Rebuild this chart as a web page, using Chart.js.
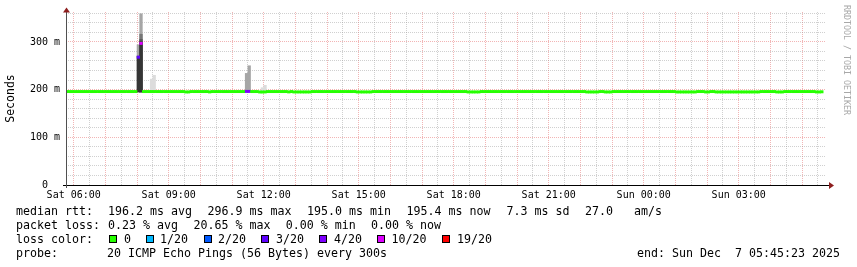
<!DOCTYPE html>
<html><head><meta charset="utf-8">
<script src="https://cdn.jsdelivr.net/npm/chart.js@4"></script>
<style>
html,body{margin:0;padding:0;background:#fff;}
#wrap{position:relative;width:857px;height:267px;overflow:hidden;background:#fff;}
#c{position:absolute;left:0;top:0;}
.t{position:absolute;font-family:"DejaVu Sans Mono",monospace;font-size:11.63px;line-height:14px;color:#000;white-space:pre;}
.sq{position:absolute;width:6px;height:6px;border:1px solid #000;}
#wm{position:absolute;left:842px;top:5px;font-family:"DejaVu Sans Mono",monospace;font-size:8.3px;line-height:10px;color:#a8a8a8;writing-mode:vertical-rl;white-space:pre;}
</style></head><body>
<div id="wrap">
<canvas id="c" width="857" height="267"></canvas>
<div id="wm">RRDTOOL / TOBI OETIKER</div>
<div id="legend"></div>
</div>
<script>
// ---- time axis (hours since Sat 00:00) ----
const rangeStart = 5 + 45/60 + 23/3600;   // Sat 05:45:23
const rangeEnd = rangeStart + 24;          // Sun 05:45:23
const firstStep = 5.75;                    // first 5-minute step starts Sat 05:45
const stepHours = 5/60;

// ---- median RTT per 5-minute step (ms) ----
const medianRtt = [
 195.9,195.9,195.9,195.9,195.9,195.9,195.9,195.9,195.9,195.9,195.9,195.9,
 195.9,195.9,195.9,195.9,195.9,195.9,195.9,195.9,195.9,195.9,195.9,195.9,
 195.9,195.9,195.9,268.0,296.9,195.9,195.9,195.9,195.9,195.9,195.9,195.9,
 195.9,195.9,195.9,195.9,195.9,195.9,195.9,195.9,195.9,195.1,195.1,195.9,
 195.9,195.9,195.9,195.9,195.9,195.9,195.2,195.9,195.9,195.9,195.9,195.9,
 195.9,195.9,195.9,195.9,195.9,195.9,195.9,195.9,196.2,196.2,195.9,195.9,
 195.9,195.1,195.0,195.1,195.9,195.9,195.9,195.9,195.9,195.9,195.9,195.9,
 195.2,195.9,195.1,195.1,195.1,195.1,195.1,195.1,195.1,195.9,195.9,195.9,
 195.9,195.9,195.9,195.9,195.9,195.9,195.9,195.9,195.9,195.9,195.9,195.9,
 195.9,195.9,195.1,195.1,195.1,195.1,195.1,195.1,195.9,195.9,195.9,195.9,
 195.9,195.9,195.9,195.9,195.9,195.9,195.9,195.9,195.9,195.9,195.9,195.9,
 195.9,195.9,195.9,195.9,195.9,195.9,195.9,195.9,195.9,195.9,195.9,195.9,
 195.9,195.9,195.9,195.9,195.9,195.9,195.9,195.9,195.1,195.1,195.1,195.1,
 195.1,195.9,195.9,195.9,195.9,195.9,195.9,195.9,195.9,195.9,195.9,195.9,
 195.9,195.9,195.9,195.9,195.9,195.9,195.9,195.9,195.9,195.9,195.9,195.9,
 195.9,195.9,195.9,195.9,195.9,195.9,195.9,195.9,195.9,195.9,195.9,195.9,
 195.9,195.9,195.9,195.9,195.9,195.1,195.1,195.1,195.1,195.1,195.9,195.9,
 195.1,195.1,195.1,195.9,195.9,195.9,195.9,195.9,195.9,195.9,195.9,195.9,
 195.9,195.9,195.9,195.9,195.9,195.9,195.9,195.9,195.9,195.9,195.9,195.9,
 195.9,195.9,195.9,195.1,195.1,195.1,195.1,195.1,195.1,195.1,195.1,195.9,
 195.9,195.9,195.1,195.1,195.9,195.9,195.1,195.1,195.1,195.1,195.1,195.1,
 195.1,195.1,195.1,195.1,195.1,195.1,195.1,195.1,195.1,195.1,195.1,195.9,
 195.9,195.9,195.9,195.9,195.9,195.1,195.1,195.1,195.9,195.9,195.9,195.9,
 195.9,195.9,195.9,195.9,195.9,195.9,195.9,195.9,195.1,195.1,195.4
];

// ---- packet loss (pings lost of 20), only steps with loss ----
const lossSteps = [27, 28, 68, 69];
const lossPings = [3, 10, 4, 4];

// ---- smoke (spread of the 20 pings), only steps where visible ----
const smokeSteps    = [27,  28,  32,  33,  68,  69,  74,  75];
const smokeOuter    = [null,null,222, 230, null,null,204, 209];   // lightest band top
const smokeWide     = [294, 359, null,null,234, 250, null,null];
const smokeMid      = [null,316, null,null,null,null,null,null];
const smokeInner    = [null,305, null,null,null,null,null,null];
const smokeCore     = [270, 300, null,null,null,null,null,null];
const smokeFloor    = 195.0;

// ---- axis ticks / legend ----
const yTickLabels = {0:'0  ', 100:'100 m', 200:'200 m', 300:'300 m'};
const lossLevels = [0, 1, 2, 3, 4, 10, 19];
const lossLabels = ['0', '1/20', '2/20', '3/20', '4/20', '10/20', '19/20'];
const lossColors = ['#26ff00','#00b8ff','#0059ff','#5e00ff','#7e00ff','#dd00ff','#ff0000'];

const statsRows = [
  [['median rtt:',16],['196.2 ms avg',108],['296.9 ms max',207.5],['195.0 ms min',307],['195.4 ms now',406.5],['7.3 ms sd',506.5],['27.0',585],['am/s',634]],
  [['packet loss:',16],['0.23 % avg',108],['20.65 % max',193.5],['0.00 % min',285.8],['0.00 % now',371]]
];
const probeText = '20 ICMP Echo Pings (56 Bytes) every 300s';
const endText = 'end: Sun Dec  7 05:45:23 2025';

// ---------- build ----------
const stepMid = k => firstStep + k*stepHours + stepHours/2;
function lossColor(p){ let c = lossColors[0]; lossLevels.forEach((l,i)=>{ if(p>=l) c = lossColors[i]; }); return c; }
const halfBand = 2.4;
const medianData = medianRtt.map((m,k)=>({x: stepMid(k), y:[m-halfBand, m+halfBand]}));
const medianColors = medianRtt.map((m,k)=>{ const i = lossSteps.indexOf(k); return lossColor(i<0?0:lossPings[i]); });
function smokeSet(arr){ const out=[]; arr.forEach((v,i)=>{ if(v!=null) out.push({x: stepMid(smokeSteps[i]), y:[smokeFloor, v]}); }); return out; }

const barCommon = {grouped:false, barPercentage:1, categoryPercentage:1, borderWidth:0};
const datasets = [
  Object.assign({label:'median', data: medianData, backgroundColor: medianColors}, barCommon),
  Object.assign({label:'core', data: smokeSet(smokeCore), backgroundColor:'#353535'}, barCommon),
  Object.assign({label:'inner', data: smokeSet(smokeInner), backgroundColor:'#555555'}, barCommon),
  Object.assign({label:'mid', data: smokeSet(smokeMid), backgroundColor:'#777777'}, barCommon),
  Object.assign({label:'wide', data: smokeSet(smokeWide), backgroundColor:'#a6a6a6'}, barCommon),
  Object.assign({label:'outer', data: smokeSet(smokeOuter), backgroundColor:'#dcdcdc'}, barCommon)
];

const gridMinor = 'rgba(150,150,150,0.45)';
const gridMajor = 'rgba(220,60,60,0.38)';
const mono = '"DejaVu Sans Mono", monospace';
const isWhole = v => Math.abs(v - Math.round(v)) < 1e-6;

const axesPlugin = {
  id:'axesArrows',
  afterDraw(chart){
    const {ctx, chartArea:a} = chart;
    const x0 = Math.round(a.left)+0.5, y0 = Math.round(a.bottom)+0.5;
    ctx.save();
    ctx.lineWidth = 1;
    ctx.strokeStyle = '#000';
    ctx.beginPath(); ctx.moveTo(a.left-3, y0); ctx.lineTo(a.right+3, y0); ctx.stroke();
    ctx.strokeStyle = '#505050';
    ctx.beginPath(); ctx.moveTo(x0, a.bottom+3); ctx.lineTo(x0, a.top-3); ctx.stroke();
    ctx.fillStyle = '#8e1f1f';
    ctx.beginPath(); ctx.moveTo(x0-3.5, a.top+0.5); ctx.lineTo(x0+3.5, a.top+0.5); ctx.lineTo(x0, a.top-4.5); ctx.closePath(); ctx.fill();
    ctx.beginPath(); ctx.moveTo(a.right+3, y0-3.5); ctx.lineTo(a.right+3, y0+3.5); ctx.lineTo(a.right+8, y0); ctx.closePath(); ctx.fill();
    ctx.restore();
  }
};

function fmtTime(v){
  const h = Math.round(v);
  const day = h < 24 ? 'Sat' : 'Sun';
  const hh = String(h % 24).padStart(2,'0');
  return day + ' ' + hh + ':00';
}

new Chart(document.getElementById('c'), {
  type:'bar',
  data:{datasets},
  plugins:[axesPlugin],
  options:{
    responsive:false, animation:false,
    layout:{padding:{left:0, right:31, top:12, bottom:0}},
    plugins:{legend:{display:false}, tooltip:{enabled:false}},
    scales:{
      x:{
        type:'linear', min:rangeStart, max:rangeEnd, offset:false,
        afterBuildTicks: s => { const t=[]; for (let v = Math.ceil(rangeStart*2)/2; v < rangeEnd; v += 0.5) t.push({value:v}); s.ticks = t; },
        afterFit: s => { s.height = 82; },
        ticks:{autoSkip:false, maxRotation:0, padding:4, color:'#000',
          font:{family:mono, size:10},
          callback: v => (isWhole(v) && Math.round(v) % 3 === 0) ? fmtTime(v) : ''},
        grid:{offset:false, drawTicks:false, lineWidth:1,
          color: c => (c.tick && isWhole(c.tick.value)) ? gridMajor : gridMinor},
        border:{display:false, dash:[1,1]}
      },
      y:{
        type:'linear', min:0, max:362.7,
        afterBuildTicks: s => { const t=[]; for (let v = 0; v < 362.7; v += 20) t.push({value:v}); s.ticks = t; },
        afterFit: s => { s.width = 66; },
        ticks:{autoSkip:false, padding:6, color:'#000', font:{family:mono, size:10},
          callback: v => (yTickLabels[v] !== undefined ? yTickLabels[v] : '')},
        grid:{drawTicks:false, lineWidth:1,
          color: c => (c.tick && Math.round(c.tick.value) % 100 === 0) ? gridMajor : gridMinor},
        border:{display:false, dash:[1,1]},
        title:{display:true, text:'Seconds', color:'#000', font:{family:mono, size:11.5}, padding:{top:4,bottom:0}}
      }
    }
  }
});

// ---------- legend text ----------
const lg = document.getElementById('legend');
function addText(txt, x, cy){ const d=document.createElement('div'); d.className='t'; d.textContent=txt; d.style.left=x+'px'; d.style.top=(cy-7.5)+'px'; lg.appendChild(d); return d; }
const rowY = [211.7, 225.2, 239.3, 253.3];
statsRows.forEach((row,r)=> row.forEach(([txt,x])=> addText(txt,x,rowY[r])));
addText('loss color:', 16, rowY[2]);
const sqX = [108.5, 145.5, 203.5, 261, 319, 377, 442];
const lblX = [124, 160, 218, 276, 334, 391.5, 457];
lossLabels.forEach((l,i)=>{
  const s=document.createElement('div'); s.className='sq'; s.style.background=lossColors[i];
  s.style.left=sqX[i]+'px'; s.style.top=(rowY[2]-4)+'px'; lg.appendChild(s);
  addText(l, lblX[i], rowY[2]);
});
addText('probe:', 16, rowY[3]);
addText(probeText, 107, rowY[3]);
const e = addText(endText, 0, rowY[3]); e.style.left=''; e.style.right=(857-840)+'px';
</script>
</body></html>
